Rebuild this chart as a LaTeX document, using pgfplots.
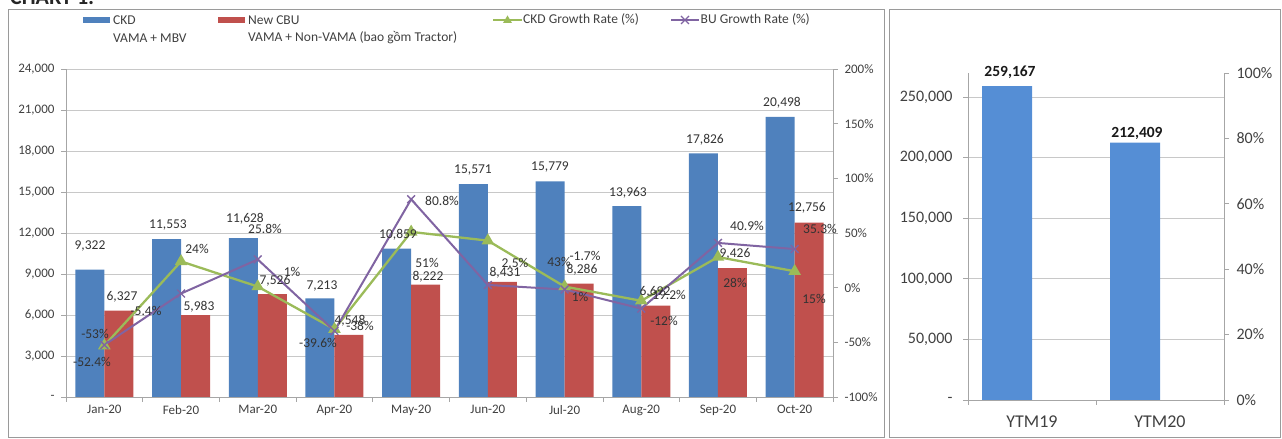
\documentclass[border=0pt]{standalone}
\usepackage{pgfplots}
\pgfplotsset{compat=1.18}
\usepackage{fontspec}
\setmainfont{Carlito}
\definecolor{ckd}{HTML}{4F81BD}
\definecolor{cbu}{HTML}{C0504D}
\definecolor{grn}{HTML}{9BBB59}
\definecolor{pur}{HTML}{8064A2}
\definecolor{ytm}{HTML}{558ED5}
\definecolor{gridc}{HTML}{C8C8C8}
\definecolor{axc}{HTML}{A6A6A6}
\definecolor{framec}{HTML}{9A9A9A}
\definecolor{txt}{HTML}{404040}
\begin{document}
\begin{tikzpicture}
\begin{scope}[x=1bp,y=1bp]
\useasboundingbox (0,0) rectangle (1282,439);
\node[anchor=base west, font=\bfseries\fontsize{22bp}{26bp}\selectfont, text=black!85, inner sep=0] at (10,434.5) {CHART 1:};
\draw[framec, line width=1bp] (8.5,1.5) rectangle (884.5,429.5);
\draw[framec, line width=1bp] (889.5,1.5) rectangle (1280.5,429.5);
\end{scope}

% ---------- left chart: bars ----------
\begin{axis}[at={(66bp,42bp)}, anchor=south west, width=767bp, height=328bp, scale only axis,
  xmin=-0.5, xmax=9.5, ymin=0, ymax=24000, clip=false,
  ybar=0pt, bar width=29bp,
  axis x line*=bottom, axis y line*=left,
  axis line style={axc, line width=0.8bp},
  xtick={-0.5,0.5,...,9.5},
  xticklabels={Jan-20,Feb-20,Mar-20,Apr-20,May-20,Jun-20,Jul-20,Aug-20,Sep-20,Oct-20},
  x tick label as interval,
  ytick={0,3000,...,24000}, scaled y ticks=false,
  yticklabels={{-\hspace{8bp}},{3,000},{6,000},{9,000},{12,000},{15,000},{18,000},{21,000},{24,000}},
  ymajorgrids, grid style={gridc, line width=0.8bp},
  tick align=outside, major tick length=5bp, tick style={axc, line width=0.8bp},
  tick label style={font=\fontsize{13bp}{15bp}\selectfont, text=txt},
  yticklabel style={xshift=-3bp},
]
\addplot[fill=ckd, draw=none] coordinates {(0,9322) (1,11553) (2,11628) (3,7213) (4,10859) (5,15571) (6,15779) (7,13963) (8,17826) (9,20498)};
\addplot[fill=cbu, draw=none] coordinates {(0,6327) (1,5983) (2,7526) (3,4548) (4,8222) (5,8431) (6,8286) (7,6692) (8,9426) (9,12756)};
\end{axis}

% ---------- left chart: growth lines ----------
\begin{axis}[at={(66bp,42bp)}, anchor=south west, width=767bp, height=328bp, scale only axis,
  xmin=-0.5, xmax=9.5, ymin=-100, ymax=200, clip=false,
  axis x line=none, axis y line*=right,
  axis line style={axc, line width=0.8bp},
  ytick={-100,-50,...,200},
  yticklabels={-100\%,-50\%,0\%,50\%,100\%,150\%,200\%},
  tick align=outside, major tick length=5bp, tick style={axc, line width=0.8bp},
  tick label style={font=\fontsize{13bp}{15bp}\selectfont, text=txt},
  yticklabel style={xshift=3bp},
]
\addplot[grn, line width=2.3bp, mark=triangle*, mark size=5bp, mark options={solid, fill=grn}] coordinates {(0,-53) (1,24) (2,1) (3,-38) (4,51) (5,43) (6,1) (7,-12) (8,28) (9,15)};
\addplot[pur, line width=2bp, mark=x, mark size=5.5bp, mark options={solid, line width=1.4bp}] coordinates {(0,-52.4) (1,-5.4) (2,25.8) (3,-39.6) (4,80.8) (5,2.5) (6,-1.7) (7,-19.2) (8,40.9) (9,35.3)};
\end{axis}

% ---------- right chart ----------
\begin{axis}[at={(968bp,39bp)}, anchor=south west, width=256bp, height=327bp, scale only axis,
  xmin=-0.5, xmax=1.5, ymin=0, ymax=270000, clip=false,
  ybar, bar width=50bp, bar shift=-25bp,
  axis x line*=bottom, axis y line*=left,
  axis line style={axc, line width=0.8bp},
  xtick={-0.5,0.5,1.5}, xticklabels={YTM19,YTM20}, x tick label as interval,
  ytick={0,50000,...,250000}, scaled y ticks=false,
  yticklabels={{-\hspace{10bp}},{50,000},{100,000},{150,000},{200,000},{250,000}},
  ymajorgrids, grid style={gridc, line width=0.8bp},
  tick align=outside, major tick length=5bp, tick style={axc, line width=0.8bp},
  tick label style={font=\fontsize{16bp}{19bp}\selectfont, text=txt},
  yticklabel style={xshift=-7bp},
  xticklabel style={yshift=-7bp, font=\fontsize{18bp}{21bp}\selectfont},
]
\addplot[fill=ytm, draw=none] coordinates {(0,259167) (1,212409)};
\end{axis}
\begin{axis}[at={(968bp,39bp)}, anchor=south west, width=256bp, height=327bp, scale only axis,
  xmin=-0.5, xmax=1.5, ymin=0, ymax=1, clip=false,
  axis x line=none, axis y line*=right,
  axis line style={axc, line width=0.8bp},
  ytick={0,0.2,...,1},
  yticklabels={0\%,20\%,40\%,60\%,80\%,100\%},
  tick align=outside, major tick length=5bp, tick style={axc, line width=0.8bp},
  tick label style={font=\fontsize{16bp}{19bp}\selectfont, text=txt},
  yticklabel style={xshift=4bp},
]
\addplot[draw=none, forget plot] coordinates {(0,0)};
\end{axis}

\begin{scope}[x=1bp,y=1bp]
% data labels (left chart)
\foreach \x/\y/\t in {90/246/{9,322}, 122/297/{6,327}, 168/225/{11,553}, 199/307/{5,983},
  245/219/{11,628}, 275/281/{7,526}, 322/286/{7,213}, 350/321/{4,548}, 398/235/{10,859},
  428/277/{8,222}, 473/170/{15,571}, 505/273/{8,431}, 550/167/{15,779}, 582/270/{8,286},
  628/193/{13,963}, 655/292/{6,692}, 705/140/{17,826}, 735/254/{9,426}, 782/103/{20,498}, 807/208/{12,756},
  95/334/{-53\%}, 92/362/{-52.4\%}, 197/249/{24\%}, 146/311/{-5.4\%}, 292/272/{1\%}, 265/229/{25.8\%},
  360/326/{-38\%}, 318/343/{-39.6\%}, 427/263/{51\%}, 442/201/{80.8\%}, 559/262/{43\%}, 515/263/{2.5\%},
  580/297/{1\%}, 585/256/{-1.7\%}, 664/321/{-12\%}, 667/295/{-19.2\%}, 735/283/{28\%}, 747/226/{40.9\%},
  814/299/{15\%}, 820/229/{35.3\%}}
  {\node[font=\fontsize{13.5bp}{16bp}\selectfont, text=black!80, inner sep=0] at (\x,{439-\y}) {\t};}
% right chart labels
\node[font=\bfseries\fontsize{15.5bp}{18bp}\selectfont, text=black!90, inner sep=0] at (1010,{439-72}) {259,167};
\node[font=\bfseries\fontsize{15.5bp}{18bp}\selectfont, text=black!90, inner sep=0] at (1137,{439-133}) {212,409};

% legend (left chart)
\fill[ckd] (83,416) rectangle (110,421.5);
\fill[cbu] (218,416) rectangle (245,421.5);
\begin{scope}[every node/.style={anchor=west, inner sep=0, font=\fontsize{13.5bp}{16bp}\selectfont, text=txt}]
\node at (113,419) {CKD};
\node at (113,401) {VAMA + MBV};
\node at (248,419) {New CBU};
\node at (248,401.5) {VAMA + Non-VAMA (bao gồm Tractor)};
\node at (523,419) {CKD Growth Rate (\%)};
\node at (700.5,419) {BU Growth Rate (\%)};
\end{scope}
\draw[grn, line width=2.3bp] (493,419) -- (522,419);
\fill[grn] (507.5,423.5) -- (503,416) -- (512,416) -- cycle;
\draw[pur, line width=2bp] (671,419) -- (699,419);
\draw[pur, line width=1.2bp] (681,415) -- (689,423) (681,423) -- (689,415);
\end{scope}
\end{tikzpicture}
\end{document}
